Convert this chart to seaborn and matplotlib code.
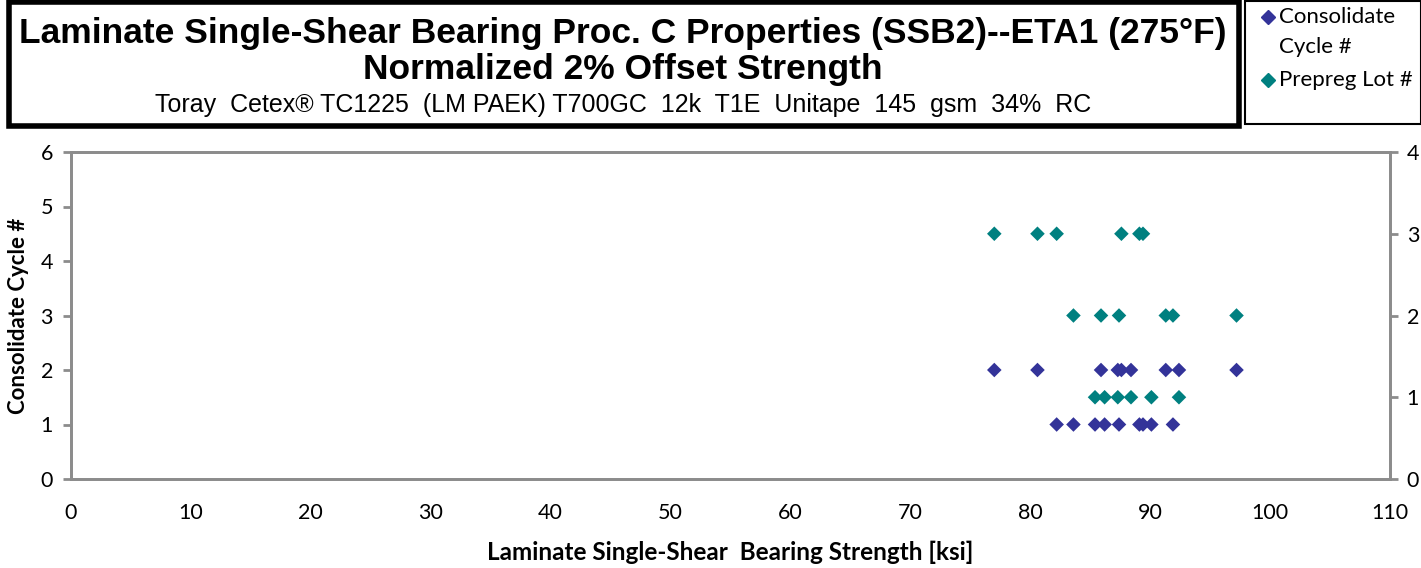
import matplotlib
matplotlib.use("Agg")
import matplotlib.pyplot as plt
import seaborn as sns
import pandas as pd
from matplotlib.patches import Rectangle
from matplotlib.lines import Line2D

# ---- data ----
strength = [82.2, 89.1, 89.4, 77.0, 80.6, 87.6,   # lot 3
            83.6, 87.4, 91.9, 85.9, 91.3, 97.2,   # lot 2
            85.4, 86.2, 90.1, 87.3, 88.4, 92.4]   # lot 1
consolidate_cycle = [1, 1, 1, 2, 2, 2,
                     1, 1, 1, 2, 2, 2,
                     1, 1, 1, 2, 2, 2]
prepreg_lot = [3, 3, 3, 3, 3, 3,
               2, 2, 2, 2, 2, 2,
               1, 1, 1, 1, 1, 1]
x_ticks = [0, 10, 20, 30, 40, 50, 60, 70, 80, 90, 100, 110]
left_ticks = [0, 1, 2, 3, 4, 5, 6]
right_ticks = [0, 1, 2, 3, 4]

title1 = "Laminate Single-Shear Bearing Proc. C Properties (SSB2)--ETA1 (275°F)"
title2 = "Normalized 2% Offset Strength"
subtitle = "Toray  Cetex® TC1225  (LM PAEK) T700GC  12k  T1E  Unitape  145  gsm  34%  RC"
xlabel = "Laminate Single-Shear  Bearing Strength [ksi]"
ylabel = "Consolidate Cycle #"
legend_labels = ["Consolidate", "Cycle #", "Prepreg Lot #"]

df = pd.DataFrame({"strength": strength, "cycle": consolidate_cycle, "lot": prepreg_lot})

sns.set_style("white")
plt.rcParams['font.family'] = ['Lato', 'DejaVu Sans']
plt.rcParams['text.color'] = 'black'
plt.rcParams['axes.labelcolor'] = 'black'

BLUE = "#333399"
TEAL = "#008080"
GRAY = "#8c8c8c"
ARIAL = ["Liberation Sans", "DejaVu Sans"]

fig = plt.figure(figsize=(14.21, 5.68), dpi=100)
ax = fig.add_axes([71/1421, 1 - 479/568, (1390 - 71)/1421, (479 - 152)/568])
ax2 = ax.twinx()

sns.scatterplot(data=df, x="strength", y="cycle", ax=ax, marker="D", s=55,
                color=BLUE, edgecolor="none", legend=False, zorder=3)
sns.scatterplot(data=df, x="strength", y="lot", ax=ax2, marker="D", s=55,
                color=TEAL, edgecolor="none", legend=False, zorder=3)

ax.set_xlim(0, 110)
ax.set_ylim(0, 6)
ax2.set_ylim(0, 4)
ax.set_xticks(x_ticks)
ax.set_yticks(left_ticks)
ax2.set_yticks(right_ticks)
ax.set_xticklabels([str(t) for t in x_ticks], fontsize=15.5)
ax.set_yticklabels([str(t) for t in left_ticks], fontsize=15.5)
ax2.set_yticklabels([str(t) for t in right_ticks], fontsize=15.5)

for a in (ax, ax2):
    for sp in a.spines.values():
        sp.set_color(GRAY)
        sp.set_linewidth(2)
        sp.set_visible(True)
    a.tick_params(axis="both", direction="out", length=6, width=2, color=GRAY,
                  labelcolor="black", pad=7)
ax2.tick_params(axis="y", pad=6)
ax.tick_params(axis="x", pad=11)
ax.set_xlabel(xlabel, fontsize=17.5, fontweight="bold", labelpad=13)
ax.set_ylabel(ylabel, fontsize=16, fontweight="bold", labelpad=8)
ax2.set_ylabel("")

# title box
fig.patches.append(Rectangle((9/1421, 1 - 126/568), (1239 - 9)/1421, 124/568,
                             transform=fig.transFigure, fill=False,
                             edgecolor="black", linewidth=4))
fig.text(623/1421, 1 - 33/568, title1, ha="center", va="center", fontsize=25.5,
         fontweight="bold", family=ARIAL, color="black")
fig.text(623/1421, 1 - 70/568, title2, ha="center", va="center", fontsize=25.5,
         fontweight="bold", family=ARIAL, color="black")
fig.text(623/1421, 1 - 105/568, subtitle, ha="center", va="center", fontsize=18,
         family=ARIAL, color="black")

# legend box
fig.patches.append(Rectangle((1245/1421, 1 - 124/568), (1421 - 1245)/1421, 123/568,
                             transform=fig.transFigure, fill=False,
                             edgecolor="black", linewidth=1.5))
fig.lines.append(Line2D([1268/1421], [1 - 17/568], marker="D", linestyle="none",
                        color=BLUE, markersize=7.5, transform=fig.transFigure))
fig.lines.append(Line2D([1268/1421], [1 - 80/568], marker="D", linestyle="none",
                        color=TEAL, markersize=7.5, transform=fig.transFigure))
for lbl, yy in zip(legend_labels, [17, 47, 80]):
    fig.text(1279/1421, 1 - yy/568, lbl, ha="left", va="center", fontsize=16,
             color="black")

fig.savefig("out.png", dpi=100)
